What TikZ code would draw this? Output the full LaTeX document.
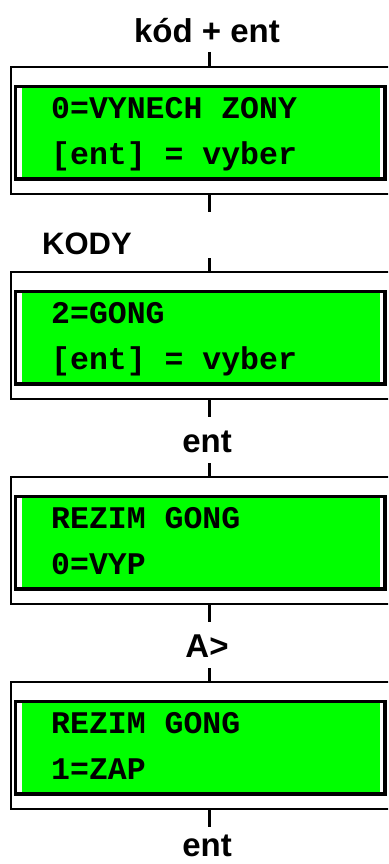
\documentclass[tikz,border=0pt]{standalone}
\usepackage{fontspec}
\setmainfont{Liberation Sans}
\newfontfamily\lcdfont{Liberation Mono}
\definecolor{lcdgreen}{HTML}{00FF00}
\tikzset{
  x=1pt, y=-1pt,
  outerbox/.style={draw=black, line width=2.5pt},
  innerbox/.style={draw=black, line width=3.5pt},
  conn/.style={draw=black, line width=3pt},
  lbl/.style={font=\fontsize{33}{33}\selectfont\bfseries, anchor=base, inner sep=0pt},
  lcdtext/.style={font=\fontsize{31.5}{31.5}\lcdfont\bfseries, anchor=base west, inner sep=0pt},
}
\newcommand\lcdbox[4]{%
  % #1 name, #2 top y of outer box, #3 line 1, #4 line 2
  \path[outerbox] (11,#2) rectangle (400,#2+127);
  \fill[white] (15.5,#2+19.5) rectangle (385,#2+112);
  \fill[lcdgreen] (22,#2+21) rectangle (380,#2+110.5);
  \path[innerbox] (15.5,#2+19.5) rectangle (385,#2+112);
  \coordinate (#1top) at (209,#2);
  \coordinate (#1bot) at (209,#2+127);
  \node[lcdtext] (#1a) at (51,#2+51) {#3};
  \node[lcdtext] (#1b) at (51,#2+97) {#4};
}
\begin{document}
\begin{tikzpicture}
\clip (0,0) rectangle (388,864);
\useasboundingbox (0,0) rectangle (388,864);
\node[lbl] (l0) at (207,43) {kód + ent};
\coordinate (s0) at (209,52);
\lcdbox{A}{67}{0=VYNECH ZONY}{[ent] = vyber}
\draw[conn] (s0) -- (Atop);
\coordinate (s1) at (209,212);
\draw[conn] (Abot) -- (s1);
\node[font=\fontsize{31}{31}\selectfont\bfseries, anchor=base west, inner sep=0pt] (l1) at (42,254) {KODY};
\coordinate (s2) at (209,258);
\lcdbox{B}{272}{2=GONG}{[ent] = vyber}
\draw[conn] (s2) -- (Btop);
\coordinate (s3) at (209,417);
\draw[conn] (Bbot) -- (s3);
\node[lbl] (l2) at (207,452) {ent};
\coordinate (s4) at (209,463);
\lcdbox{C}{477}{REZIM GONG}{0=VYP}
\draw[conn] (s4) -- (Ctop);
\coordinate (s5) at (209,622);
\draw[conn] (Cbot) -- (s5);
\node[lbl] (l3) at (207,657) {A>};
\coordinate (s6) at (209,668);
\lcdbox{D}{682}{REZIM GONG}{1=ZAP}
\draw[conn] (s6) -- (Dtop);
\coordinate (s7) at (209,827);
\draw[conn] (Dbot) -- (s7);
\node[lbl] (l4) at (207,856) {ent};
\end{tikzpicture}
\end{document}
